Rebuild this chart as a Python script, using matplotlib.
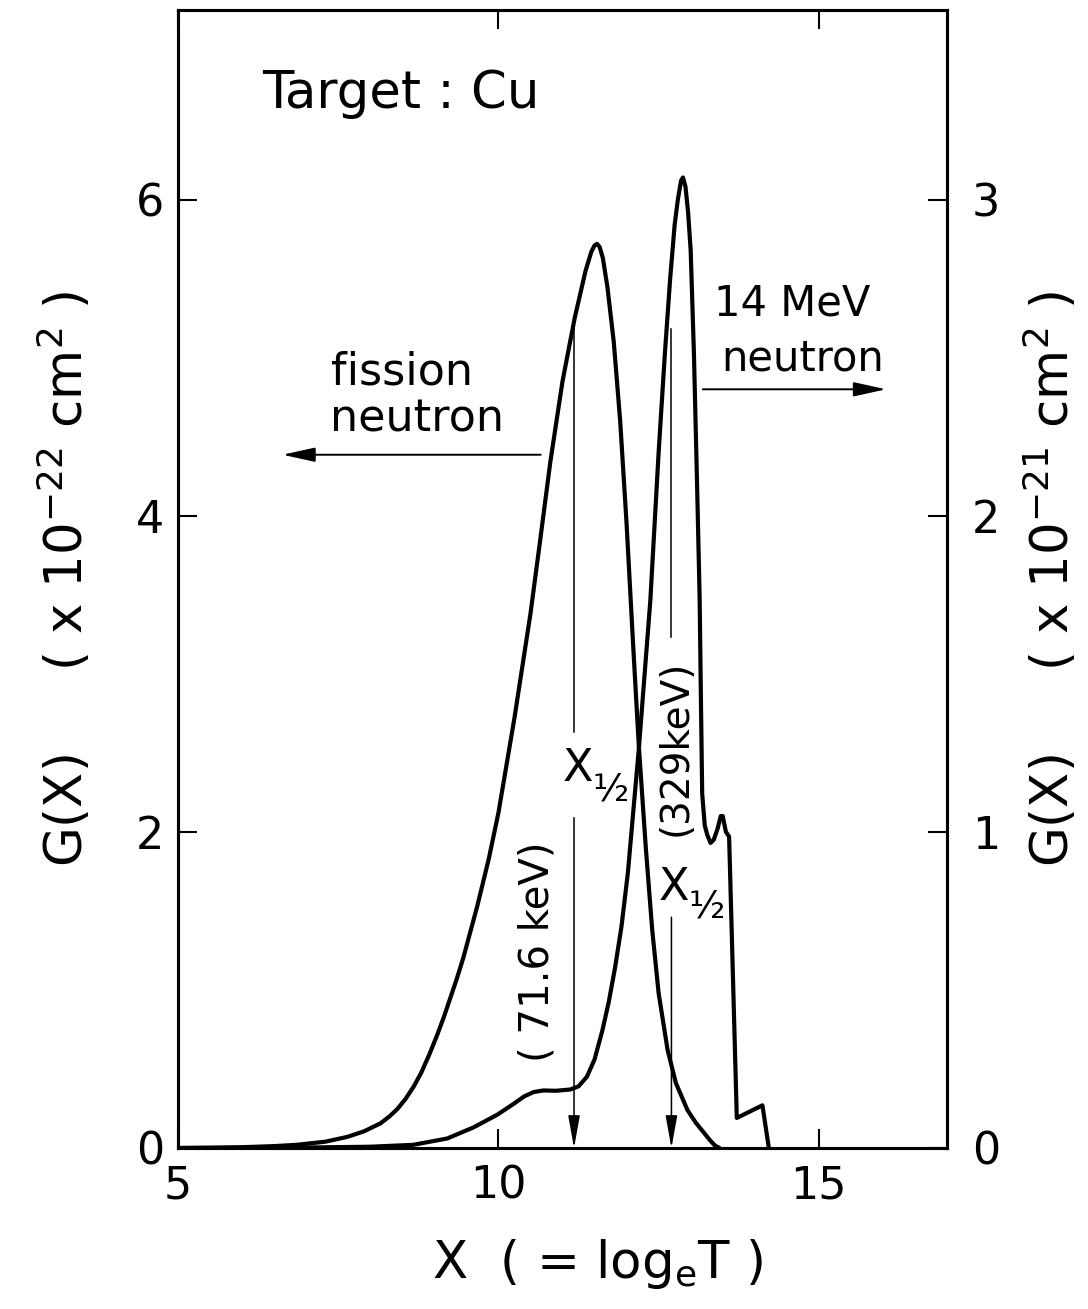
import matplotlib
matplotlib.use('Agg')
import matplotlib.pyplot as plt

# ---------------- data ----------------
# fission neutron curve, left axis (x 10^-22 cm^2)
fission_x = [5.0, 5.5, 6.0, 6.5, 6.85, 7.3, 7.64, 7.9, 8.16, 8.3, 8.42, 8.55,
             8.68, 8.8, 8.92, 9.04, 9.15, 9.25, 9.35, 9.45, 9.67, 9.85, 10.0,
             10.25, 10.5, 10.65, 10.81, 11.0, 11.19, 11.36, 11.45, 11.5, 11.54,
             11.58, 11.63, 11.7, 11.8, 11.9, 12.0, 12.1, 12.19, 12.3, 12.4,
             12.5, 12.64, 12.77, 12.95, 13.08, 13.2, 13.3, 13.38, 13.45]
fission_y = [0.0, 0.002, 0.005, 0.012, 0.02, 0.04, 0.07, 0.105, 0.156, 0.2,
             0.245, 0.31, 0.39, 0.48, 0.59, 0.71, 0.83, 0.95, 1.07, 1.2, 1.53,
             1.83, 2.12, 2.72, 3.38, 3.84, 4.34, 4.85, 5.25, 5.55, 5.67, 5.71,
             5.72, 5.7, 5.63, 5.45, 5.1, 4.6, 3.95, 3.2, 2.55, 1.9, 1.38,
             0.98, 0.62, 0.41, 0.24, 0.16, 0.1, 0.05, 0.015, 0.0]

# 14 MeV neutron curve, right axis (x 10^-21 cm^2)
mev14_x = [5.0, 6.0, 7.0, 8.0, 8.67, 9.2, 9.61, 9.98, 10.24, 10.4, 10.55,
           10.7, 10.9, 11.12, 11.25, 11.38, 11.5, 11.62, 11.72, 11.82, 11.92,
           12.02, 12.19, 12.37, 12.5, 12.6, 12.68, 12.75, 12.8, 12.85, 12.88,
           12.92, 12.96, 13.0, 13.05, 13.1, 13.14, 13.16, 13.18, 13.22, 13.26,
           13.31, 13.36, 13.42, 13.47, 13.5, 13.55, 13.6, 13.72, 14.12, 14.22]
mev14_y = [0.0, 0.0005, 0.0015, 0.004, 0.01, 0.03, 0.065, 0.105, 0.14, 0.163,
           0.177, 0.182, 0.181, 0.185, 0.195, 0.225, 0.28, 0.37, 0.46, 0.57,
           0.7, 0.87, 1.26, 1.73, 2.2, 2.52, 2.75, 2.92, 3.0, 3.06, 3.07,
           3.04, 2.96, 2.84, 2.52, 2.1, 1.74, 1.42, 1.12, 1.02, 0.99,
           0.965, 0.975, 1.01, 1.05, 1.05, 1.0, 0.985, 0.095, 0.135, 0.0]

# half-value energies X_1/2 = ln(T)
half_fission = 11.18   # 71.6 keV
half_14mev = 12.70     # 329 keV

x_ticks = [5, 10, 15]
left_ticks = [0, 2, 4, 6]
right_ticks = [0, 1, 2, 3]

plt.rcParams['font.family'] = ['DejaVu Sans']
plt.rcParams['mathtext.fontset'] = 'custom'
plt.rcParams['mathtext.rm'] = 'DejaVu Sans'
plt.rcParams['mathtext.it'] = 'DejaVu Sans'
plt.rcParams['mathtext.bf'] = 'DejaVu Sans'

# ---------------- figure ----------------
fig = plt.figure(figsize=(10.88, 13.09), dpi=100)
ax = fig.add_axes([0.1636, 0.1230, 0.7068, 0.8694])
ax2 = ax.twinx()

ax.set_xlim(5, 17)
ax.set_ylim(0, 7.2)
ax2.set_ylim(0, 3.6)

lw_curve = 3.0
ax.plot(fission_x, fission_y, color='black', lw=lw_curve,
        solid_joinstyle='round', solid_capstyle='round')
ax2.plot(mev14_x, mev14_y, color='black', lw=lw_curve,
         solid_joinstyle='round', solid_capstyle='round')

for a in (ax, ax2):
    for sp in a.spines.values():
        sp.set_linewidth(2.2)

ax.set_xticks(x_ticks)
ax.set_xticklabels([str(t) for t in x_ticks])
ax.set_yticks(left_ticks)
ax.set_yticklabels([str(t) for t in left_ticks])
ax2.set_yticks(right_ticks)
ax2.set_yticklabels([str(t) for t in right_ticks])

ax.tick_params(axis='x', direction='in', length=14, width=1.5, top=True,
               labelsize=32, pad=12)
ax.tick_params(axis='y', direction='in', length=14, width=1.5, right=False,
               labelsize=32, pad=10)
ax2.tick_params(axis='y', direction='in', length=14, width=1.5,
                labelsize=32, pad=18)

ax.set_xlabel(r'X  ( = log$_{\mathrm{e}}$T )', fontsize=37)
ax.xaxis.set_label_coords(0.546, -0.078)
ax.set_ylabel(r'G(X)     ( x 10$^{-22}$ cm$^{2}$ )', fontsize=37, labelpad=30)
ax2.set_ylabel(r'G(X)     ( x 10$^{-21}$ cm$^{2}$ )', fontsize=37,
               labelpad=16, rotation=90)

# ---------------- annotations (left-axis data coords) ----------------
ax.text(6.31, 6.58, 'Target : Cu', fontsize=37, ha='left', va='baseline')

ax.text(8.5, 4.83, 'fission', fontsize=32, ha='center', va='baseline')
ax.text(8.73, 4.53, 'neutron', fontsize=32, ha='center', va='baseline')
ax.annotate('', xy=(6.63, 4.386), xytext=(10.66, 4.386),
            arrowprops=dict(arrowstyle='-|>,head_length=1.0,head_width=0.22',
                            mutation_scale=20, lw=1.4, color='black',
                            shrinkA=0, shrinkB=0))

ax.text(14.59, 5.27, '14 MeV', fontsize=30, ha='center', va='baseline')
ax.text(14.75, 4.92, 'neutron', fontsize=30, ha='center', va='baseline')
ax.annotate('', xy=(16.05, 4.80), xytext=(13.19, 4.80),
            arrowprops=dict(arrowstyle='-|>,head_length=1.0,head_width=0.22',
                            mutation_scale=20, lw=1.4, color='black',
                            shrinkA=0, shrinkB=0))

# X_1/2 marker lines
thin = 1.1
arrow_kw = dict(arrowstyle='-|>,head_length=1.0,head_width=0.18',
                mutation_scale=20, lw=thin, color='black',
                shrinkA=0, shrinkB=0)
ax.plot([half_fission, half_fission], [5.25, 2.63], color='black', lw=thin)
ax.annotate('', xy=(half_fission, 0.0), xytext=(half_fission, 2.09),
            arrowprops=arrow_kw)
ax.plot([half_14mev, half_14mev], [5.18, 3.23], color='black', lw=thin)
ax.annotate('', xy=(half_14mev, 0.0), xytext=(half_14mev, 1.46),
            arrowprops=arrow_kw)

ax.text(11.0, 2.32, 'X', fontsize=32, ha='left', va='baseline')
ax.text(11.47, 2.20, '\u00bd', fontsize=27, ha='left', va='baseline')
ax.text(12.5, 1.57, 'X', fontsize=32, ha='left', va='baseline')
ax.text(12.97, 1.46, '\u00bd', fontsize=27, ha='left', va='baseline')

ax.text(10.61, 1.24, '( 71.6 keV)', fontsize=29, rotation=90,
        ha='center', va='center')
ax.text(12.77, 2.53, '(329keV)', fontsize=28, rotation=90,
        ha='center', va='center')

fig.savefig('out.png', dpi=100)
